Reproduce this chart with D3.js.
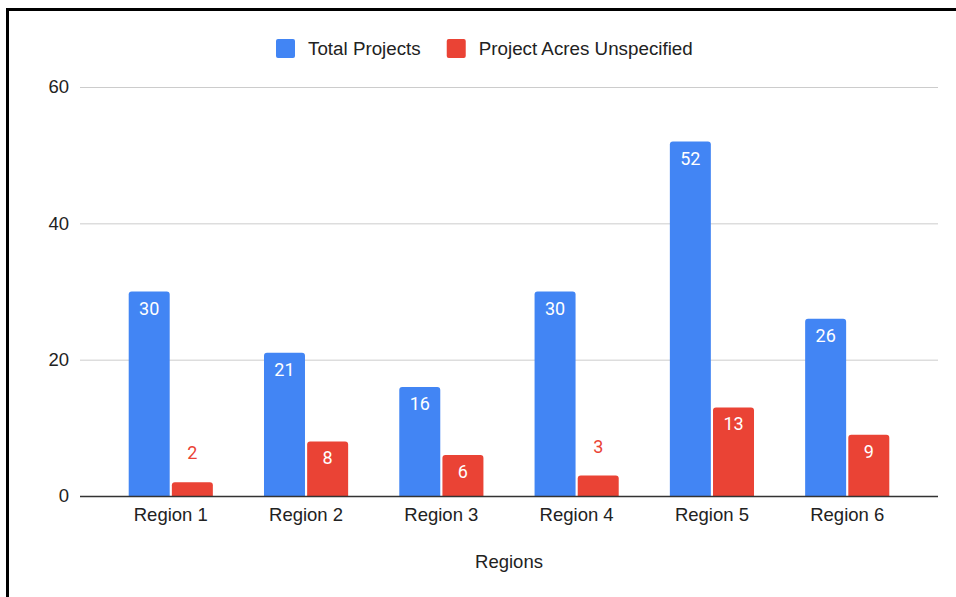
<!DOCTYPE html>
<html>
<head>
<meta charset="utf-8">
<script src="https://cdn.jsdelivr.net/npm/d3@7"></script>
<style>
  html, body { margin: 0; padding: 0; background: #fff; }
  svg { display: block; }
  text { font-family: "Liberation Sans", Arial, Helvetica, sans-serif; }
</style>
</head>
<body>
<svg id="chart" width="956" height="597"></svg>
<script>
// Chart data
const regions = ["Region 1", "Region 2", "Region 3", "Region 4", "Region 5", "Region 6"];
const totalProjects = [30, 21, 16, 30, 52, 26];
const acresUnspecified = [2, 8, 6, 3, 13, 9];
const seriesNames = ["Total Projects", "Project Acres Unspecified"];
const seriesColors = ["#4285F4", "#EA4335"];
const yTicks = [0, 20, 40, 60];
const xTitle = "Regions";

const svg = d3.select("#chart");
const W = 956, H = 597;
const plot = { left: 80, right: 938, top: 87, bottom: 496 };

// Frame around the chart
svg.append("rect")
  .attr("x", 7.5).attr("y", 9.5)
  .attr("width", W + 10).attr("height", H + 10)
  .attr("fill", "none").attr("stroke", "#000").attr("stroke-width", 3);

const y = d3.scaleLinear().domain([0, 60]).range([plot.bottom, plot.top]);
const x0 = d3.scaleBand().domain(regions)
  .range([plot.left, plot.right])
  .paddingInner(0.378).paddingOuter(0.36);
const x1 = d3.scaleBand().domain(seriesNames)
  .range([0, x0.bandwidth()]).paddingInner(0.05);

// Gridlines
svg.append("g").selectAll("line").data(yTicks.filter(d => d !== 0)).join("line")
  .attr("x1", plot.left).attr("x2", plot.right)
  .attr("y1", d => y(d) + 0.5).attr("y2", d => y(d) + 0.5)
  .attr("stroke", "#cccccc").attr("stroke-width", 1);

// Y tick labels
svg.append("g").selectAll("text").data(yTicks).join("text")
  .attr("x", 69).attr("y", d => y(d))
  .attr("dy", "0.35em")
  .attr("text-anchor", "end")
  .attr("font-size", 18.5).attr("fill", "#222")
  .text(d => d);

// Bars
const rows = regions.map((r, i) => ({ region: r, values: [totalProjects[i], acresUnspecified[i]] }));
const groups = svg.append("g").selectAll("g").data(rows).join("g")
  .attr("transform", d => `translate(${x0(d.region)},0)`);

function topRounded(x, yTop, w, h, r) {
  r = Math.min(r, h, w / 2);
  return `M${x},${yTop + h}V${yTop + r}Q${x},${yTop} ${x + r},${yTop}H${x + w - r}Q${x + w},${yTop} ${x + w},${yTop + r}V${yTop + h}Z`;
}

groups.each(function (d) {
  const g = d3.select(this);
  d.values.forEach((v, k) => {
    const bx = x1(seriesNames[k]);
    const bw = x1.bandwidth();
    const top = y(v);
    const h = y(0) - top;
    g.append("path")
      .attr("d", topRounded(bx, top, bw, h, 3))
      .attr("fill", seriesColors[k]);
    const inside = h >= 30;
    g.append("text")
      .attr("x", bx + bw / 2)
      .attr("y", inside ? top + 23 : top - 23)
      .attr("text-anchor", "middle")
      .attr("font-size", 18)
      .style("font-family", "Roboto, 'Liberation Sans', Arial, sans-serif")
      .attr("fill", inside ? "#ffffff" : seriesColors[k])
      .text(v);
  });
});

// Baseline
svg.append("line")
  .attr("x1", plot.left).attr("x2", plot.right)
  .attr("y1", y(0) + 0.5).attr("y2", y(0) + 0.5)
  .attr("stroke", "#333333").attr("stroke-width", 1.5);

// X tick labels
svg.append("g").selectAll("text").data(regions).join("text")
  .attr("x", d => x0(d) + x0.bandwidth() / 2)
  .attr("y", 521)
  .attr("text-anchor", "middle")
  .attr("font-size", 18.5).attr("fill", "#222")
  .text(d => d);

// X axis title
svg.append("text")
  .attr("x", (plot.left + plot.right) / 2).attr("y", 568)
  .attr("text-anchor", "middle")
  .attr("font-size", 18.5).attr("fill", "#222")
  .text(xTitle);

// Legend
const legend = svg.append("g");
let lx = 276;
seriesNames.forEach((name, k) => {
  legend.append("rect")
    .attr("x", lx).attr("y", 39)
    .attr("width", 19).attr("height", 19).attr("rx", 2)
    .attr("fill", seriesColors[k]);
  const t = legend.append("text")
    .attr("x", lx + 32).attr("y", 55)
    .attr("font-size", 18.8).attr("fill", "#222")
    .text(name);
  lx = lx + 32 + t.node().getComputedTextLength() + 26;
});
</script>
</body>
</html>
